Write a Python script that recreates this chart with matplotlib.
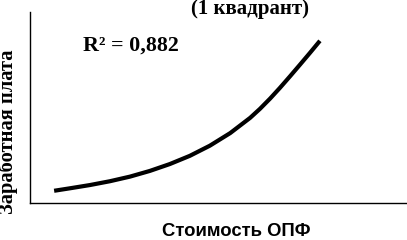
import matplotlib
matplotlib.use('Agg')
import matplotlib.pyplot as plt

# trend line (cost of fixed assets vs wages)
cost = [6.4, 10.6, 15.9, 21.2, 26.5, 31.8, 37.1, 42.4, 47.7,
        53.1, 58.4, 61.0, 63.7, 66.3, 69.0, 71.6, 74.3, 76.9]
wage = [6.4, 7.7, 9.4, 11.4, 13.8, 16.8, 20.4, 24.7, 30.0,
        36.6, 44.6, 49.3, 54.7, 60.3, 66.4, 72.4, 78.7, 84.9]

title = '(1 квадрант)'
r2_text = 'R² = 0,882'
xlabel = 'Стоимость ОПФ'
ylabel = 'Заработная плата'

fig = plt.figure(figsize=(4.07, 2.4), dpi=100)
ax = fig.add_axes([30 / 407, 37 / 240, 377 / 407, 191 / 240])

ax.plot(cost, wage, color='black', linewidth=3, solid_capstyle='butt',
        solid_joinstyle='round')

ax.set_xlim(0, 100)
ax.set_ylim(0, 100)
ax.spines['top'].set_visible(False)
ax.spines['right'].set_visible(False)
ax.spines['left'].set_linewidth(1)
ax.spines['bottom'].set_linewidth(1)
ax.set_xticks([])
ax.set_yticks([])

serif = ['Liberation Serif', 'DejaVu Serif']
sans = ['Liberation Sans', 'DejaVu Sans']

fig.text(250 / 407, 1 - 9 / 240, title, ha='center', va='center',
         fontsize=15, fontweight='bold', family=serif)
fig.text(83 / 407, 1 - 46 / 240, r2_text, ha='left', va='center',
         fontsize=15.8, fontweight='bold', family=serif)
fig.text(236 / 407, 1 - 232 / 240, xlabel, ha='center', va='center',
         fontsize=13.3, fontweight='bold', family=sans)
fig.text(8 / 407, 1 - 132 / 240, ylabel, ha='center', va='center',
         rotation=90, fontsize=14.8, fontweight='bold', family=serif)

fig.savefig('out.png', dpi=100)
